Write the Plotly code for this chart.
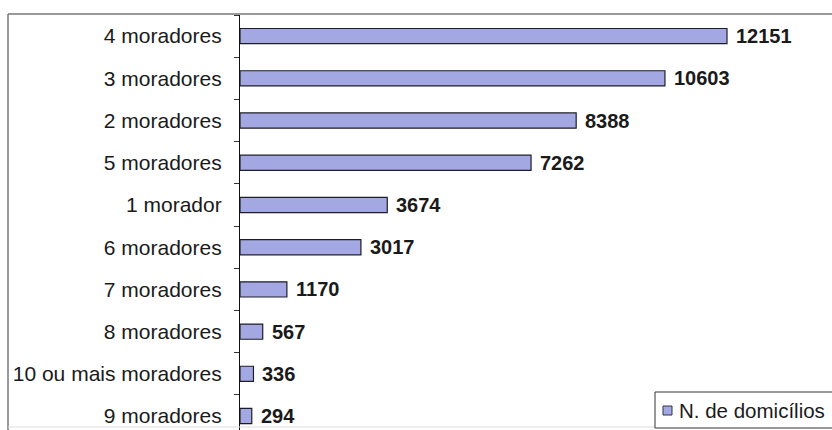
import plotly.graph_objects as go

# Households by number of residents
categorias = ["4 moradores", "3 moradores", "2 moradores", "5 moradores", "1 morador",
              "6 moradores", "7 moradores", "8 moradores", "10 ou mais moradores", "9 moradores"]
domicilios = [12151, 10603, 8388, 7262, 3674, 3017, 1170, 567, 336, 294]
serie_nome = "N. de domicílios"

W, H = 832, 430
L, R, T, B = 240, 0, 15, 0
plot_w = W - L - R
plot_h = H - T - B
px_per_unit = 487 / 12151  # longest bar spans 487 px
x_max = plot_w / px_per_unit

BAR_FILL = "#a3a8e2"
BAR_EDGE = "#1e1e2a"
FONT = "Liberation Sans, Arial"

fig = go.Figure()
fig.add_trace(go.Bar(
    x=domicilios,
    y=categorias,
    orientation="h",
    name=serie_nome,
    marker=dict(color=BAR_FILL, line=dict(color=BAR_EDGE, width=1.2)),
    showlegend=False,
))

# value labels at the end of each bar
for v, c in zip(domicilios, categorias):
    fig.add_annotation(x=v, y=c, text=f"<b>{v}</b>", showarrow=False,
                       xanchor="left", yanchor="middle", xshift=7,
                       font=dict(family=FONT, size=20, color="#1a1a1a"))


def px_x(p):
    return (p - L) / plot_w


def px_y(p):
    return (H - B - p) / plot_h


# outer chart frame (left and top edges)
fx = px_x(8)
fy = px_y(14)
fig.add_shape(type="line", xref="paper", yref="paper", x0=fx, x1=fx, y0=-0.01, y1=fy,
              line=dict(color="#777777", width=1.5))
fig.add_shape(type="line", xref="paper", yref="paper", x0=fx, x1=1.01, y0=fy, y1=fy,
              line=dict(color="#777777", width=1.5))
# faint lower edge
fig.add_shape(type="line", xref="paper", yref="paper", x0=fx, x1=1.01, y0=px_y(427), y1=px_y(427),
              line=dict(color="#dddddd", width=1))

# legend box with series key
fig.add_shape(type="rect", xref="paper", yref="paper",
              x0=px_x(655), x1=px_x(840), y0=px_y(428), y1=px_y(392),
              line=dict(color="#333333", width=1), fillcolor="white")
fig.add_shape(type="rect", xref="paper", yref="paper",
              x0=px_x(663), x1=px_x(672), y0=px_y(415), y1=px_y(406),
              line=dict(color="#333344", width=1), fillcolor=BAR_FILL)
fig.add_annotation(xref="paper", yref="paper", x=px_x(677), y=px_y(410.5),
                   text=serie_nome, showarrow=False, xanchor="left", yanchor="middle",
                   font=dict(family=FONT, size=20.5, color="#1a1a1a"))

fig.update_layout(
    width=W, height=H,
    margin=dict(l=L, r=R, t=T, b=B, pad=0),
    paper_bgcolor="white", plot_bgcolor="white",
    bargap=0.64,
    showlegend=False,
    font=dict(family=FONT, size=20, color="#1a1a1a"),
    xaxis=dict(range=[0, x_max], visible=False, showgrid=False, zeroline=False),
    yaxis=dict(
        type="category", categoryorder="array", categoryarray=categorias,
        range=[9.33, -0.5],
        showline=True, linecolor="#111111", linewidth=1.2,
        ticks="outside", tickson="boundaries", ticklen=5, tickcolor="#333333",
        showgrid=False, zeroline=False,
        tickfont=dict(family=FONT, size=21, color="#1a1a1a"),
        ticklabelstandoff=13,
    ),
)

fig.write_html("out.html")
